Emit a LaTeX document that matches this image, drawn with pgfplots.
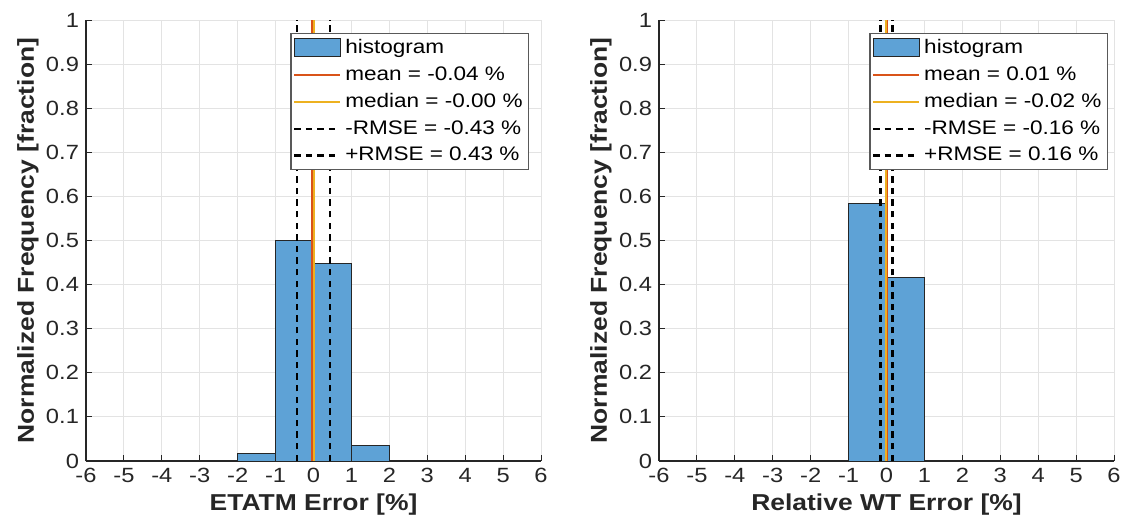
\documentclass[border=0pt]{standalone}
\usepackage{fontspec}
\setmainfont[FakeStretch=1.15]{Liberation Sans}
\usepackage{pgfplots}
\pgfplotsset{compat=1.18}
\definecolor{histfill}{RGB}{94,162,214}
\definecolor{meanc}{RGB}{217,83,25}
\definecolor{medc}{RGB}{237,177,32}
\definecolor{axc}{RGB}{38,38,38}
\pgfplotsset{
  histax/.style={
    scale only axis, width=227.5pt, height=220.5pt,
    xmin=-6, xmax=6, ymin=0, ymax=1,
    axis x line*=bottom, axis y line*=left,
    xtick={-6,-5,...,6}, ytick={0,0.1,...,1},
    grid=major, major grid style={gray!22, line width=0.5pt},
    axis line style={axc, line width=0.6pt, -},
    tick style={axc, line width=0.5pt}, tick align=inside, major tick length=3pt,
    ticklabel style={font=\fontsize{10.3}{12}\selectfont, text=axc},
    /pgf/number format/assume math mode=true,
    yticklabel style={/pgf/number format/fixed},
    xlabel style={font=\fontsize{11.5}{13}\selectfont\bfseries, text=axc, at={(axis description cs:0.5,-0.0998)}, anchor=center},
    ylabel style={font=\fontsize{11.5}{13}\selectfont\bfseries, text=axc, at={(axis description cs:-0.1275,0.5)}, anchor=center},
    ylabel={Normalized Frequency [fraction]},
    legend cell align=left,
    legend style={font=\fontsize{9.8}{11}\selectfont, draw=gray!70!black, fill=white, line width=0.6pt,
      inner xsep=1pt, inner ysep=1pt, row sep=1pt, anchor=north east},
    every axis plot/.append style={line width=1pt},
  },
  histleg/.style={legend image code/.code={\draw[#1, line width=0.5pt] (0pt,-4.5pt) rectangle (23pt,4.5pt);}},
  lineleg/.style={legend image code/.code={\draw[#1] (0pt,0pt) -- (23pt,0pt);}},
  rmse/.style={black, line width=1.1pt, dash pattern=on 3.2pt off 2.6pt},
}
\begin{document}
\begin{tikzpicture}
\useasboundingbox (-43pt,-35pt) rectangle (524pt,230.5pt);
\begin{axis}[histax, at={(0pt,0pt)}, xlabel={ETATM Error [\%]},
  legend style={at={(axis description cs:0.974,0.971)}}]
\addplot[ybar interval, fill=histfill, draw=black!85, line width=0.5pt, histleg] coordinates {(-2,0.018) (-1,0.500) (0,0.447) (1,0.036) (2,0.036)};
\addlegendentry{histogram}
\addplot[meanc, lineleg] coordinates {(-0.04,0) (-0.04,1)};
\addlegendentry{mean = -0.04 \%}
\addplot[medc, lineleg] coordinates {(-0.00,0) (-0.00,1)};
\addlegendentry{median = -0.00 \%}
\addplot[rmse, lineleg] coordinates {(-0.43,0) (-0.43,1)};
\addlegendentry{-RMSE = -0.43 \%}
\addplot[rmse, lineleg] coordinates {(0.43,0) (0.43,1)};
\addlegendentry{+RMSE = 0.43 \%}
\end{axis}
\begin{axis}[histax, at={(286.5pt,0pt)}, xlabel={Relative WT Error [\%]},
  legend style={at={(axis description cs:0.987,0.971)}}]
\addplot[ybar interval, fill=histfill, draw=black!85, line width=0.5pt, histleg] coordinates {(-1,0.585) (0,0.415) (1,0.415)};
\addlegendentry{histogram}
\addplot[meanc, lineleg] coordinates {(0.01,0) (0.01,1)};
\addlegendentry{mean = 0.01 \%}
\addplot[medc, lineleg] coordinates {(-0.02,0) (-0.02,1)};
\addlegendentry{median = -0.02 \%}
\addplot[rmse, lineleg] coordinates {(-0.16,0) (-0.16,1)};
\addlegendentry{-RMSE = -0.16 \%}
\addplot[rmse, lineleg] coordinates {(0.16,0) (0.16,1)};
\addlegendentry{+RMSE = 0.16 \%}
\end{axis}
\end{tikzpicture}
\end{document}
